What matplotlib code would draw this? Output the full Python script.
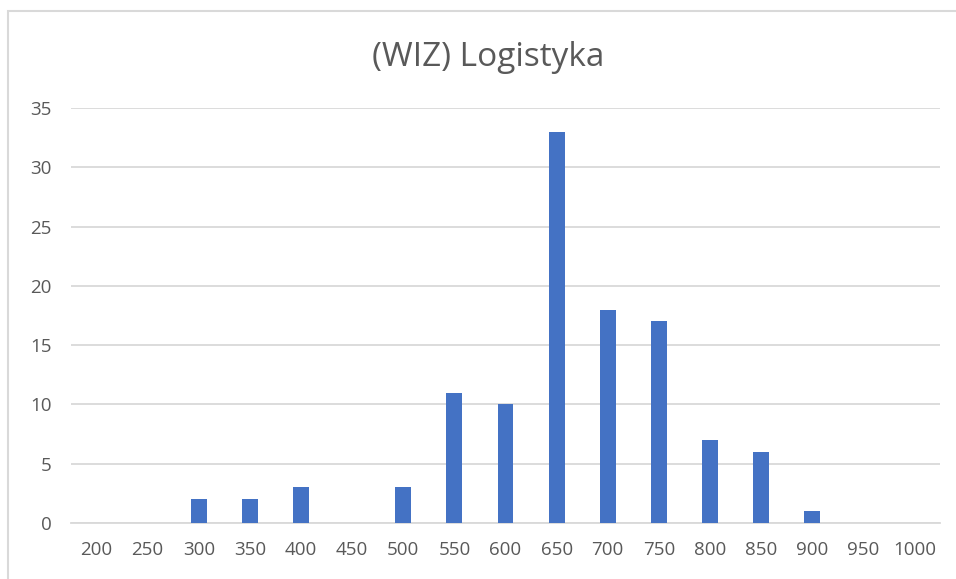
import matplotlib
matplotlib.use("Agg")
import matplotlib.pyplot as plt
from matplotlib.patches import Rectangle

categories = ["200", "250", "300", "350", "400", "450", "500", "550", "600",
              "650", "700", "750", "800", "850", "900", "950", "1000"]
values = [0, 0, 2, 2, 3, 0, 3, 11, 10, 33, 18, 17, 7, 6, 1, 0, 0]
yticks = [0, 5, 10, 15, 20, 25, 30, 35]
title = "(WIZ) Logistyka"

plt.rcParams['font.family'] = ['Open Sans', 'DejaVu Sans']

W, H = 956, 579
fig = plt.figure(figsize=(W / 100, H / 100), dpi=100)
fig.patch.set_facecolor("white")

# outer chart frame (cropped on right/bottom)
fig.patches.append(Rectangle((8 / W, -0.1), 1.2, 1 - 11 / H + 0.1,
                             transform=fig.transFigure, fill=False,
                             edgecolor="#d9d9d9", linewidth=1.5))

ax = fig.add_axes([71 / W, 1 - 523 / H, (940 - 71) / W, (523 - 108) / H])
x = list(range(len(categories)))
ax.bar(x, values, width=0.31, color="#4472C4", zorder=3)
ax.set_xlim(-0.5, len(categories) - 0.5)
ax.set_ylim(0, 35)
ax.set_yticks(yticks)
ax.set_xticks(x)
ax.set_xticklabels(categories)
ax.yaxis.grid(True, color="#d9d9d9", linewidth=1.3, zorder=0)
ax.set_axisbelow(True)
for s in ["top", "right", "left"]:
    ax.spines[s].set_visible(False)
ax.spines["bottom"].set_color("#d9d9d9")
ax.spines["bottom"].set_linewidth(1.3)
ax.tick_params(axis="both", length=0, labelsize=13.5, labelcolor="#595959")
ax.tick_params(axis="y", pad=14)
ax.tick_params(axis="x", pad=13)

fig.text(488 / W, 1 - 58 / H, title, ha="center", va="center",
         fontsize=24, color="#595959")

fig.savefig("out.png", dpi=100)
